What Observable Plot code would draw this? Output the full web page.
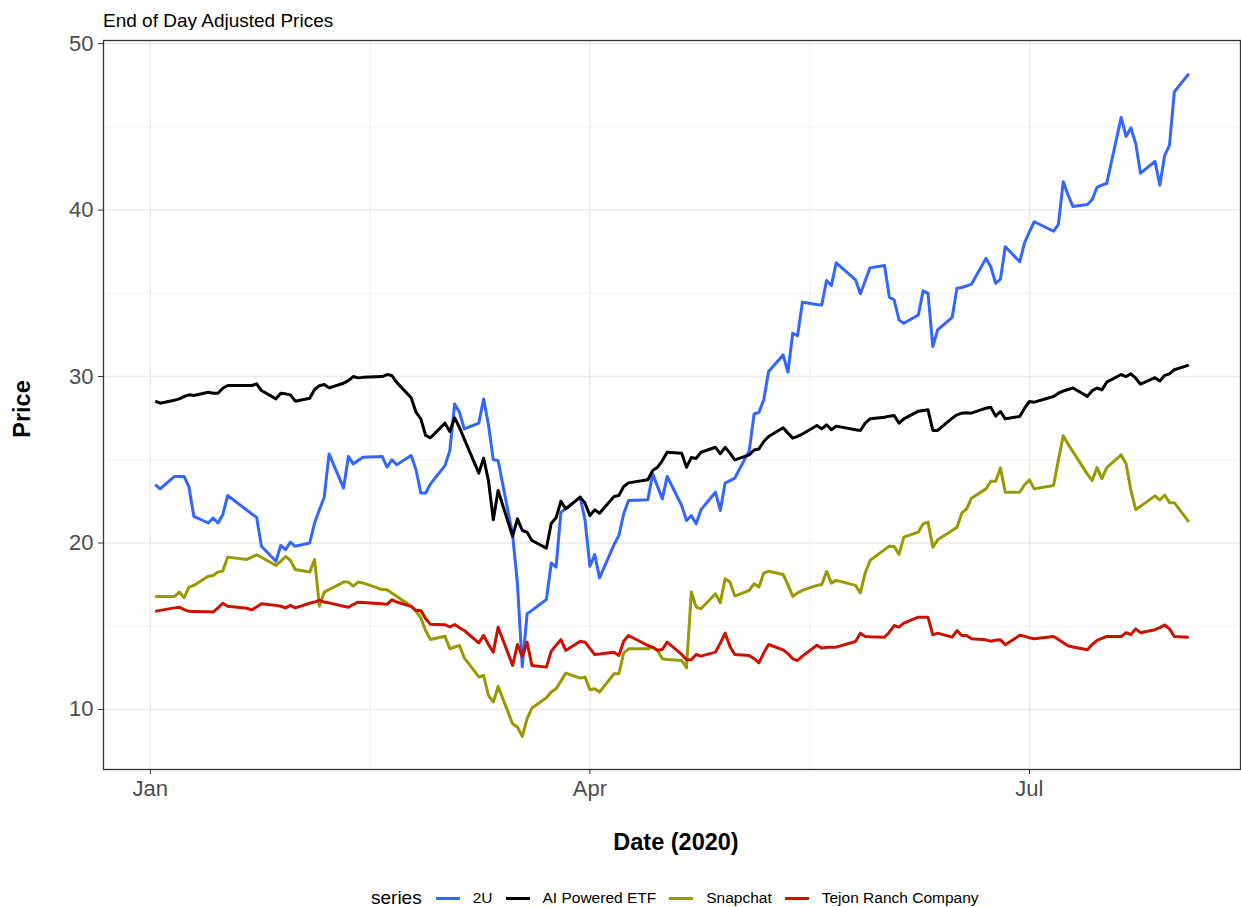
<!DOCTYPE html>
<html>
<head>
<meta charset="utf-8">
<script src="https://cdn.jsdelivr.net/npm/d3@7"></script>
<script src="https://cdn.jsdelivr.net/npm/@observablehq/plot@0.6"></script>
<style>
  html, body { margin: 0; padding: 0; background: #ffffff; }
  body { font-family: "Liberation Sans", Arial, Helvetica, sans-serif; }
  #wrap { position: relative; width: 1241px; height: 907px; overflow: hidden; }
  #subtitle { position: absolute; left: 103px; top: 11px; font-size: 19px; line-height: 19px; color: #000; white-space: nowrap; }
  #chart { position: absolute; left: 0; top: 30px; }
  #legend { position: absolute; left: 371px; top: 886px; height: 24px; display: flex; align-items: center; white-space: nowrap; color: #000; }
  #legend .ttl { font-size: 19px; margin-right: 14px; }
  #legend .key { display: inline-block; width: 24px; height: 3px; margin-right: 13px; }
  #legend .lab { font-size: 15.5px; margin-right: 13px; }
</style>
</head>
<body>
<div id="wrap">
  <div id="subtitle">End of Day Adjusted Prices</div>
  <div id="chart"></div>
  <div id="legend"></div>
</div>
<script>
// ---- data ----
const dates = [
  "2020-01-02","2020-01-03","2020-01-06","2020-01-07","2020-01-08","2020-01-09","2020-01-10",
  "2020-01-13","2020-01-14","2020-01-15","2020-01-16","2020-01-17",
  "2020-01-21","2020-01-22","2020-01-23","2020-01-24",
  "2020-01-27","2020-01-28","2020-01-29","2020-01-30","2020-01-31",
  "2020-02-03","2020-02-04","2020-02-05","2020-02-06","2020-02-07",
  "2020-02-10","2020-02-11","2020-02-12","2020-02-13","2020-02-14",
  "2020-02-18","2020-02-19","2020-02-20","2020-02-21",
  "2020-02-24","2020-02-25","2020-02-26","2020-02-27","2020-02-28",
  "2020-03-02","2020-03-03","2020-03-04","2020-03-05","2020-03-06",
  "2020-03-09","2020-03-10","2020-03-11","2020-03-12","2020-03-13",
  "2020-03-16","2020-03-17","2020-03-18","2020-03-19","2020-03-20",
  "2020-03-23","2020-03-24","2020-03-25","2020-03-26","2020-03-27",
  "2020-03-30","2020-03-31","2020-04-01","2020-04-02","2020-04-03",
  "2020-04-06","2020-04-07","2020-04-08","2020-04-09",
  "2020-04-13","2020-04-14","2020-04-15","2020-04-16","2020-04-17",
  "2020-04-20","2020-04-21","2020-04-22","2020-04-23","2020-04-24",
  "2020-04-27","2020-04-28","2020-04-29","2020-04-30","2020-05-01",
  "2020-05-04","2020-05-05","2020-05-06","2020-05-07","2020-05-08",
  "2020-05-11","2020-05-12","2020-05-13","2020-05-14","2020-05-15",
  "2020-05-18","2020-05-19","2020-05-20","2020-05-21","2020-05-22",
  "2020-05-26","2020-05-27","2020-05-28","2020-05-29",
  "2020-06-01","2020-06-02","2020-06-03","2020-06-04","2020-06-05",
  "2020-06-08","2020-06-09","2020-06-10","2020-06-11","2020-06-12",
  "2020-06-15","2020-06-16","2020-06-17","2020-06-18","2020-06-19",
  "2020-06-22","2020-06-23","2020-06-24","2020-06-25","2020-06-26",
  "2020-06-29","2020-06-30","2020-07-01","2020-07-02",
  "2020-07-06","2020-07-07","2020-07-08","2020-07-09","2020-07-10",
  "2020-07-13","2020-07-14","2020-07-15","2020-07-16","2020-07-17",
  "2020-07-20","2020-07-21","2020-07-22","2020-07-23","2020-07-24",
  "2020-07-27","2020-07-28","2020-07-29","2020-07-30","2020-07-31",
  "2020-08-03"
];

const twoU = [
  23.5, 23.25, 24.0, 24.0, 24.0, 23.35, 21.6,
  21.2, 21.5, 21.2, 21.7, 22.85,
  21.97, 21.74, 21.55, 19.8,
  18.9, 19.85, 19.6, 20.05, 19.8,
  20.0, 21.2, 22.0, 22.75, 25.35,
  23.3, 25.2, 24.75, 24.95, 25.15,
  25.2, 24.55, 25.0, 24.7,
  25.25, 24.4, 23.0, 23.0, 23.55,
  24.65, 25.55, 28.35, 27.85, 26.85,
  27.2, 28.65, 27.1, 25.0, 24.95,
  20.5, 17.55, 12.55, 15.75, 15.95,
  16.6, 18.8, 18.55, 21.85, 22.05,
  22.75, 21.35, 18.6, 19.3, 17.9,
  19.9, 20.45, 21.75, 22.55,
  22.6, 24.15, 23.4, 22.65, 24.0,
  22.25, 21.35, 21.65, 21.15, 22.0,
  23.05, 21.95, 23.6, 23.75, 23.9,
  25.55, 27.75, 27.85, 28.6, 30.3,
  31.3, 30.26, 32.6, 32.46, 34.46,
  34.33, 34.3, 35.77, 35.47, 36.83,
  35.81, 34.97, 35.75, 36.53,
  36.67, 34.77, 34.6, 33.4, 33.2,
  33.7, 35.15, 35.0, 31.8, 32.8,
  33.55, 35.3, 35.35, 35.45, 35.55,
  37.1, 36.6, 35.6, 35.85, 37.8,
  36.9, 38.04, 38.7, 39.3,
  38.73, 39.14, 41.7, 40.9, 40.22,
  40.34, 40.64, 41.37, 41.5, 41.6,
  45.57, 44.43, 44.93, 44.01, 42.22,
  42.93, 41.49, 43.28, 43.9, 47.1,
  48.2
];

const aiEtf = [
  28.52, 28.4, 28.58, 28.66, 28.8, 28.9, 28.86,
  29.06, 29.0, 29.0, 29.3, 29.46,
  29.46, 29.46, 29.56, 29.16,
  28.66, 29.0, 28.96, 28.9, 28.52,
  28.7, 29.22, 29.45, 29.52, 29.32,
  29.6, 29.75, 30.0, 29.92, 29.95,
  30.0, 30.12, 30.06, 29.65,
  28.72, 27.86, 27.46, 26.46, 26.32,
  27.2, 26.7, 27.52, 26.94, 26.24,
  24.2, 25.1, 23.75, 21.4, 23.15,
  20.4, 21.45, 20.75, 20.65, 20.15,
  19.69, 21.19, 21.51, 22.51, 22.05,
  22.75, 22.39, 21.65, 21.99, 21.79,
  22.79, 22.85, 23.39, 23.61,
  23.8, 24.35, 24.55, 24.95, 25.45,
  25.39, 24.55, 25.13, 25.08, 25.45,
  25.75, 25.36, 25.75, 25.4, 24.99,
  25.29, 25.59, 25.65, 26.1, 26.4,
  26.92, 26.6, 26.3, 26.4, 26.55,
  27.06, 26.86, 27.1, 26.8, 27.02,
  26.8, 26.76, 27.2, 27.46,
  27.55, 27.62, 27.66, 27.2, 27.46,
  27.92, 27.96, 28.0, 26.76, 26.76,
  27.5, 27.7, 27.8, 27.82, 27.8,
  28.1, 28.16, 27.62, 27.9, 27.46,
  27.6, 28.1, 28.5, 28.46,
  28.8, 29.0, 29.13, 29.22, 29.31,
  28.81, 29.15, 29.31, 29.2, 29.66,
  30.12, 30.0, 30.16, 29.9, 29.54,
  29.93, 29.73, 30.07, 30.16, 30.41,
  30.69
];

const snapchat = [
  16.79, 16.79, 16.79, 17.05, 16.71, 17.35, 17.45,
  18.0, 18.05, 18.25, 18.31, 19.15,
  19.01, 19.15, 19.29, 19.14,
  18.65, 18.9, 19.19, 18.95, 18.41,
  18.25, 19.01, 16.2, 17.05, 17.2,
  17.65, 17.65, 17.41, 17.65, 17.6,
  17.2, 17.19, 17.0, 16.8,
  16.2, 15.9, 15.5, 14.72, 14.2,
  14.4, 13.65, 13.75, 13.84, 13.1,
  11.95, 12.04, 10.84, 10.44, 11.38,
  9.14, 8.94, 8.38, 9.44, 10.08,
  10.7, 11.04, 11.24, 11.7, 12.18,
  11.88, 11.94, 11.18, 11.24, 11.04,
  12.14, 12.14, 13.4, 13.64,
  13.64, 13.74, 13.54, 13.04, 13.0,
  12.94, 12.5, 17.05, 16.15, 16.05,
  16.95, 16.41, 17.85, 17.65, 16.81,
  17.15, 17.55, 17.35, 18.19, 18.3,
  18.11, 17.5, 16.79, 17.0, 17.15,
  17.45, 17.51, 18.29, 17.59, 17.75,
  17.45, 17.0, 18.2, 18.95,
  19.6, 19.81, 19.79, 19.31, 20.35,
  20.65, 21.15, 21.25, 19.75, 20.19,
  20.75, 20.95, 21.79, 22.05, 22.69,
  23.25, 23.71, 23.71, 24.51, 23.05,
  23.05, 23.5, 23.79, 23.25,
  23.45, 25.0, 26.44, 25.94, 25.49,
  24.14, 23.75, 24.53, 23.87, 24.53,
  25.29, 24.76, 23.18, 22.01, 22.2,
  22.83, 22.58, 22.88, 22.42, 22.42,
  21.27
];

const tejon = [
  15.89, 15.95, 16.1, 16.14, 16.0, 15.89, 15.88,
  15.86, 15.85, 16.1, 16.38, 16.2,
  16.08, 15.98, 16.15, 16.35,
  16.25, 16.2, 16.1, 16.25, 16.1,
  16.38, 16.45, 16.55, 16.45, 16.4,
  16.2, 16.14, 16.3, 16.44, 16.42,
  16.35, 16.31, 16.59, 16.45,
  16.19, 15.95, 15.95, 15.45, 15.11,
  15.09, 14.95, 15.1, 14.9, 14.74,
  14.0, 14.45, 13.9, 13.44, 14.94,
  12.64, 13.9, 13.18, 14.04, 12.64,
  12.54, 13.5, 13.85, 14.19, 13.54,
  14.1, 14.04, 13.67, 13.3, 13.33,
  13.44, 13.24, 14.1, 14.44,
  13.84, 13.74, 13.55, 13.6, 14.04,
  13.3, 12.98, 12.98, 13.3, 13.2,
  13.44, 13.98, 14.58, 13.78, 13.3,
  13.24, 13.05, 12.8, 13.4, 13.9,
  13.58, 13.35, 13.04, 12.94, 13.2,
  13.85, 13.68, 13.74, 13.74, 13.74,
  14.08, 14.58, 14.38, 14.36,
  14.34, 14.64, 15.04, 14.94, 15.18,
  15.54, 15.54, 15.54, 14.48, 14.58,
  14.34, 14.74, 14.44, 14.44, 14.24,
  14.18, 14.1, 14.15, 14.18, 13.88,
  14.45, 14.4, 14.3, 14.25,
  14.38, 14.2, 14.0, 13.82, 13.75,
  13.58, 13.9, 14.15, 14.27, 14.38,
  14.38, 14.61, 14.5, 14.84, 14.61,
  14.79, 14.91, 15.07, 14.84, 14.38,
  14.34
];

const seriesNames = ["2U", "AI Powered ETF", "Snapchat", "Tejon Ranch Company"];
const seriesColors = ["#3366FF", "#000000", "#999900", "#CC1100"];

// axis ticks / grid breaks
const xMajorTicks = ["2020-01-01", "2020-04-01", "2020-07-01"];
const xMinorTicks = ["2020-02-15T12:00:00Z", "2020-05-16T12:00:00Z"];
const yMajorTicks = [10, 20, 30, 40, 50];
const yMinorTicks = [15, 25, 35, 45];

// ---- build tidy table ----
const valueLists = [twoU, aiEtf, snapchat, tejon];
const rows = [];
seriesNames.forEach((name, s) => {
  dates.forEach((d, i) => rows.push({date: new Date(d), price: valueLists[s][i], series: name}));
});

// ggplot-like 5% expansion
const tMin = d3.min(rows, d => d.date), tMax = d3.max(rows, d => d.date);
const tPad = (tMax - tMin) * 0.05;
const vMin = d3.min(rows, d => d.price), vMax = d3.max(rows, d => d.price);
const vPad = (vMax - vMin) * 0.05;

const xMajor = xMajorTicks.map(d => new Date(d));
const xMinor = xMinorTicks.map(d => new Date(d));
const font = "Liberation Sans, Arial, Helvetica, sans-serif";

const chart = Plot.plot({
  width: 1241,
  height: 840,
  marginTop: 10,
  marginRight: 1,
  marginBottom: 101,
  marginLeft: 103,
  style: {fontFamily: font, background: "#ffffff", overflow: "visible"},
  x: {type: "utc", domain: [new Date(+tMin - tPad), new Date(+tMax + tPad)]},
  y: {domain: [vMin - vPad, vMax + vPad]},
  color: {domain: seriesNames, range: seriesColors},
  marks: [
    Plot.ruleY(yMinorTicks, {stroke: "#ebebeb", strokeWidth: 0.8}),
    Plot.ruleX(xMinor, {stroke: "#ebebeb", strokeWidth: 0.8}),
    Plot.ruleY(yMajorTicks, {stroke: "#ebebeb", strokeWidth: 1.5}),
    Plot.ruleX(xMajor, {stroke: "#ebebeb", strokeWidth: 1.5}),
    Plot.lineY(rows, {x: "date", y: "price", z: "series", stroke: "series", strokeWidth: 3, strokeLinejoin: "round", strokeLinecap: "butt"}),
    Plot.frame({stroke: "#333333", strokeWidth: 1.3}),
    Plot.axisX({ticks: xMajor, tickFormat: d3.utcFormat("%b"), tickSize: 5, tickPadding: 6,
                fontSize: 22, fill: "#4d4d4d", stroke: "#333333", label: null}),
    Plot.axisY({ticks: yMajorTicks, tickSize: 5, tickPadding: 5,
                fontSize: 22, fill: "#4d4d4d", stroke: "#333333", label: null}),
    Plot.text(["Date (2020)"], {frameAnchor: "bottom", dx: 4, dy: 80, text: d => d, textAnchor: "middle",
                fontSize: 23.5, fontWeight: "bold", fill: "#000"}),
    Plot.text(["Price"], {frameAnchor: "left", dx: -81, dy: 4, rotate: -90, text: d => d, textAnchor: "middle",
                fontSize: 23.5, fontWeight: "bold", fill: "#000"})
  ]
});
document.getElementById("chart").appendChild(chart);

// ---- legend (below the chart) ----
const legend = document.getElementById("legend");
const ttl = document.createElement("span");
ttl.className = "ttl"; ttl.textContent = "series";
legend.appendChild(ttl);
seriesNames.forEach((name, i) => {
  const k = document.createElement("span");
  k.className = "key"; k.style.background = seriesColors[i];
  const l = document.createElement("span");
  l.className = "lab"; l.textContent = name;
  legend.appendChild(k); legend.appendChild(l);
});
</script>
</body>
</html>
